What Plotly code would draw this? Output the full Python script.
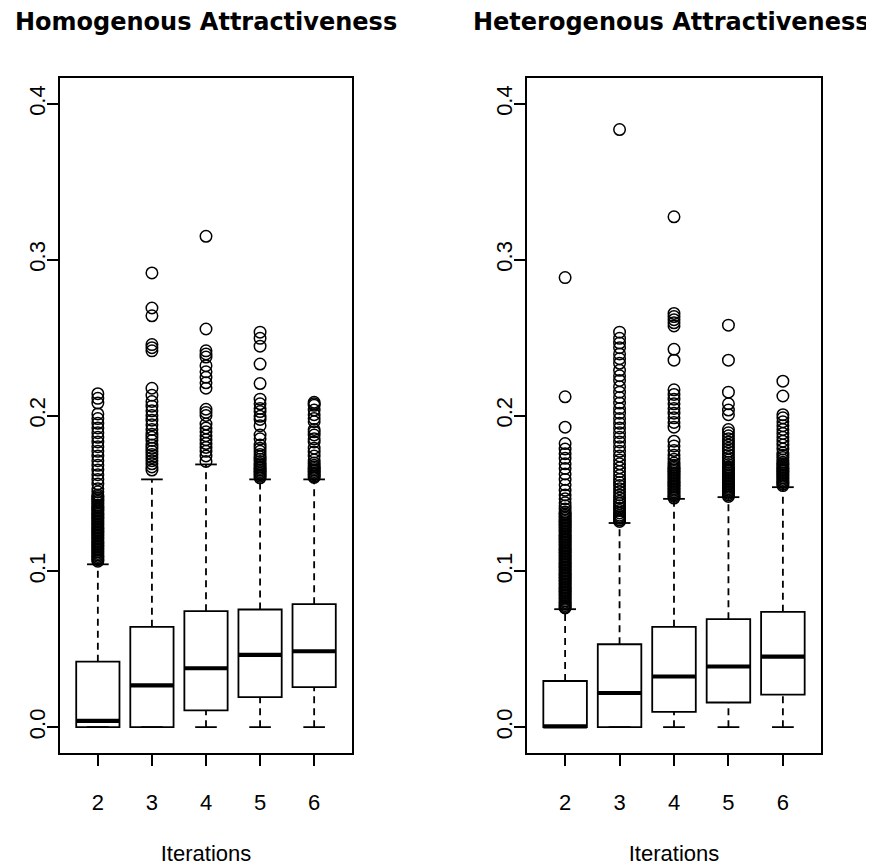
import plotly.graph_objects as go

# ---------------- data ----------------
ITER_LABELS = ["2", "3", "4", "5", "6"]
POSITIONS = [1, 2, 3, 4, 5]

# Homogenous attractiveness: box statistics
HOM_Q1 = [0.0, 0.0, 0.0108, 0.0193, 0.0257]
HOM_MED = [0.004, 0.0268, 0.0378, 0.0464, 0.0487]
HOM_Q3 = [0.042, 0.0644, 0.0744, 0.0755, 0.0789]
HOM_LOW = [0.0, 0.0, 0.0, 0.0, 0.0]
HOM_UP = [0.1045, 0.159, 0.1686, 0.159, 0.159]

HOM_OUT_2 = [0.214, 0.211, 0.208, 0.201, 0.198, 0.195, 0.192, 0.189, 0.186, 0.183, 0.180, 0.177,
             0.174, 0.171, 0.168, 0.165, 0.162, 0.159, 0.156, 0.153, 0.151, 0.149, 0.148, 0.147,
             0.146, 0.145, 0.144, 0.1425, 0.1415, 0.1405, 0.1395, 0.1385, 0.1375, 0.1365, 0.1355,
             0.1345, 0.1335, 0.1325, 0.1315, 0.1305, 0.1295, 0.1285, 0.1275, 0.1265, 0.1255,
             0.1245, 0.1235, 0.1225, 0.1215, 0.1205, 0.1195, 0.1185, 0.1175, 0.1165, 0.1155,
             0.1145, 0.1135, 0.1125, 0.1115, 0.1105, 0.1095, 0.1085, 0.1075, 0.1065]
HOM_OUT_3 = [0.2915, 0.269, 0.264, 0.2455, 0.2435, 0.2415, 0.2175, 0.213, 0.209, 0.206, 0.203,
             0.200, 0.197, 0.194, 0.191, 0.188, 0.186, 0.184, 0.181, 0.179, 0.177, 0.175, 0.173,
             0.171, 0.169, 0.167, 0.165]
HOM_OUT_4 = [0.315, 0.2555, 0.2415, 0.2395, 0.2375, 0.232, 0.228, 0.2245, 0.221, 0.2175, 0.204,
             0.202, 0.200, 0.1945, 0.192, 0.1895, 0.187, 0.1845, 0.182, 0.1795, 0.177, 0.174, 0.1705]
HOM_OUT_5 = [0.2535, 0.2495, 0.2445, 0.233, 0.2205, 0.2105, 0.2075, 0.2045, 0.2025, 0.1995,
             0.1975, 0.1935, 0.1875, 0.185, 0.181, 0.179, 0.177, 0.175, 0.1735, 0.172, 0.1705,
             0.169, 0.168, 0.167, 0.166, 0.165, 0.164, 0.163, 0.162, 0.161, 0.160]
HOM_OUT_6 = [0.2085, 0.2075, 0.2065, 0.2035, 0.2005, 0.198, 0.196, 0.191, 0.1895, 0.1875, 0.185,
             0.183, 0.179, 0.1765, 0.174, 0.1715, 0.1695, 0.168, 0.167, 0.166, 0.165, 0.164,
             0.163, 0.162, 0.161, 0.1602]

# Heterogenous attractiveness: box statistics
HET_Q1 = [0.0, 0.0, 0.0098, 0.0158, 0.0209]
HET_MED = [0.0005, 0.0219, 0.0325, 0.0389, 0.0453]
HET_Q3 = [0.0296, 0.0532, 0.0644, 0.0693, 0.074]
HET_LOW = [0.0, 0.0, 0.0, 0.0, 0.0]
HET_UP = [0.0757, 0.131, 0.1465, 0.1476, 0.154]

HET_OUT_2 = [0.2885, 0.212, 0.1925, 0.182, 0.1785, 0.1755, 0.1725, 0.169, 0.166, 0.1625, 0.159,
             0.1555, 0.152, 0.149, 0.1465, 0.144, 0.142, 0.140, 0.138, 0.137, 0.136, 0.135,
             0.134, 0.133, 0.132, 0.131, 0.130, 0.129, 0.128, 0.127, 0.126, 0.125, 0.124,
             0.123, 0.122, 0.121, 0.120, 0.119, 0.118, 0.117, 0.116, 0.115, 0.114, 0.113,
             0.112, 0.111, 0.110, 0.109, 0.108, 0.107, 0.106, 0.105, 0.104, 0.103, 0.102,
             0.101, 0.100, 0.099, 0.098, 0.097, 0.096, 0.095, 0.094, 0.093, 0.092, 0.091,
             0.090, 0.089, 0.088, 0.087, 0.086, 0.085, 0.084, 0.083, 0.082, 0.081, 0.080,
             0.079, 0.078, 0.077, 0.0765]
HET_OUT_3 = [0.3835, 0.2535, 0.2495, 0.2465, 0.2435, 0.2395, 0.2365, 0.2335, 0.229, 0.2255,
             0.2225, 0.2185, 0.215, 0.2115, 0.208, 0.2045, 0.2015, 0.198, 0.195, 0.192, 0.189,
             0.186, 0.183, 0.180, 0.177, 0.174, 0.1715, 0.169, 0.1665, 0.164, 0.1615, 0.159,
             0.157, 0.155, 0.153, 0.151, 0.149, 0.147, 0.145, 0.1435, 0.142, 0.1405, 0.139,
             0.1375, 0.136, 0.135, 0.134, 0.133, 0.132]
HET_OUT_4 = [0.3275, 0.2655, 0.2635, 0.2615, 0.2595, 0.2575, 0.2425, 0.2355, 0.2165, 0.2135,
             0.2105, 0.2075, 0.2045, 0.2015, 0.1985, 0.1955, 0.1925, 0.1835, 0.1805, 0.1775,
             0.1745, 0.172, 0.1695, 0.168, 0.167, 0.166, 0.165, 0.164, 0.163, 0.162, 0.161,
             0.160, 0.159, 0.158, 0.157, 0.156, 0.155, 0.154, 0.153, 0.152, 0.151, 0.150,
             0.149, 0.148, 0.147]
HET_OUT_5 = [0.258, 0.2355, 0.215, 0.2075, 0.2035, 0.2005, 0.191, 0.189, 0.187, 0.185, 0.183,
             0.181, 0.179, 0.177, 0.175, 0.173, 0.1715, 0.170, 0.1685, 0.167, 0.166, 0.165,
             0.164, 0.163, 0.162, 0.161, 0.160, 0.159, 0.158, 0.157, 0.156, 0.155, 0.154,
             0.153, 0.152, 0.151, 0.150, 0.149, 0.148]
HET_OUT_6 = [0.222, 0.2125, 0.2005, 0.1985, 0.196, 0.1935, 0.191, 0.1885, 0.186, 0.1835, 0.181,
             0.1785, 0.176, 0.1745, 0.173, 0.1715, 0.170, 0.169, 0.168, 0.167, 0.166, 0.165,
             0.164, 0.163, 0.162, 0.161, 0.160, 0.159, 0.158, 0.157, 0.156, 0.155]

Y_TICKS = [0.0, 0.1, 0.2, 0.3, 0.4]
Y_TICK_LABELS = ["0.0", "0.1", "0.2", "0.3", "0.4"]

TITLES = ["Homogenous Attractiveness", "Heterogenous Attractiveness"]
X_TITLE = "Iterations"

# ---------------- figure ----------------
BOX_W = 0.8
CAP_W = 0.4
LINE_W = 1.8

fig = go.Figure()


def add_panel(xa, ya, q1, med, q3, low, up, outs):
    # whiskers (dashed)
    wx, wy = [], []
    for p, a, b, lo, hi in zip(POSITIONS, q1, q3, low, up):
        wx += [p, p, None]
        wy += [b, hi, None]
        if a > lo:
            wx += [p, p, None]
            wy += [lo, a, None]
    fig.add_trace(go.Scatter(x=wx, y=wy, mode="lines", xaxis=xa, yaxis=ya,
                             line=dict(color="black", width=LINE_W, dash="7px,5px"),
                             showlegend=False, hoverinfo="skip"))
    # staples
    sx, sy = [], []
    for p, lo, hi in zip(POSITIONS, low, up):
        sx += [p - CAP_W / 2, p + CAP_W / 2, None, p - CAP_W / 2, p + CAP_W / 2, None]
        sy += [hi, hi, None, lo, lo, None]
    fig.add_trace(go.Scatter(x=sx, y=sy, mode="lines", xaxis=xa, yaxis=ya,
                             line=dict(color="black", width=LINE_W),
                             showlegend=False, hoverinfo="skip"))
    # boxes
    fig.add_trace(go.Box(x=POSITIONS, q1=q1, median=med, q3=q3, lowerfence=q1, upperfence=q3,
                         width=BOX_W, whiskerwidth=0, boxpoints=False,
                         line=dict(color="black", width=LINE_W), fillcolor="white",
                         xaxis=xa, yaxis=ya, showlegend=False, hoverinfo="skip"))
    # medians (thick)
    mx, my = [], []
    for p, m in zip(POSITIONS, med):
        mx += [p - BOX_W / 2, p + BOX_W / 2, None]
        my += [m, m, None]
    fig.add_trace(go.Scatter(x=mx, y=my, mode="lines", xaxis=xa, yaxis=ya,
                             line=dict(color="black", width=4.2),
                             showlegend=False, hoverinfo="skip"))
    # outliers
    ox, oy = [], []
    for p, vals in zip(POSITIONS, outs):
        ox += [p] * len(vals)
        oy += vals
    fig.add_trace(go.Scatter(x=ox, y=oy, mode="markers", xaxis=xa, yaxis=ya,
                             marker=dict(symbol="circle-open", size=11.5, color="black",
                                         line=dict(color="black", width=1.5)),
                             showlegend=False, hoverinfo="skip"))


add_panel("x", "y", HOM_Q1, HOM_MED, HOM_Q3, HOM_LOW, HOM_UP,
          [HOM_OUT_2, HOM_OUT_3, HOM_OUT_4, HOM_OUT_5, HOM_OUT_6])
add_panel("x2", "y2", HET_Q1, HET_MED, HET_Q3, HET_LOW, HET_UP,
          [HET_OUT_2, HET_OUT_3, HET_OUT_4, HET_OUT_5, HET_OUT_6])

TICK_FONT = dict(family="Liberation Sans, Arial, sans-serif", size=22, color="black")

# the page has an 8px body margin, so the figure starts 8px in from the top-left
FIG_W, FIG_H = 866, 858
ML, MT, MR, MB = 52, 70, 53, 113
PLOT_W = FIG_W - ML - MR
PLOT_H = FIG_H - MT - MB

xcommon = dict(range=[0.3, 5.7], tickmode="array", tickvals=POSITIONS, ticktext=ITER_LABELS,
               showline=True, mirror=True, linecolor="black", linewidth=LINE_W,
               ticks="outside", ticklen=11, tickwidth=LINE_W, tickcolor="black",
               showgrid=False, zeroline=False, tickfont=TICK_FONT, ticklabelstandoff=18,
               automargin=False,
               title=dict(text=X_TITLE, font=TICK_FONT, standoff=32))
ycommon = dict(range=[-0.0166, 0.4166], tickmode="array", tickvals=Y_TICKS, ticktext=Y_TICK_LABELS,
               showline=True, mirror=True, linecolor="black", linewidth=LINE_W,
               ticks="outside", ticklen=11, tickwidth=LINE_W, tickcolor="black",
               showgrid=False, zeroline=False, tickfont=TICK_FONT, tickangle=-90,
               ticklabelstandoff=-7, automargin=False)

D1 = 292 / PLOT_W
D2 = (527 - 60) / PLOT_W

fig.update_layout(
    width=FIG_W, height=FIG_H,
    margin=dict(l=ML, r=MR, t=MT, b=MB, autoexpand=False),
    paper_bgcolor="white", plot_bgcolor="white",
    xaxis=dict(domain=[0, D1], anchor="y", **xcommon),
    yaxis=dict(domain=[0, 1], anchor="x", **ycommon),
    xaxis2=dict(domain=[D2, 1], anchor="y2", **xcommon),
    yaxis2=dict(domain=[0, 1], anchor="x2", **ycommon),
    showlegend=False,
)

TITLE_FONT = dict(family="DejaVu Sans, sans-serif", size=24, color="black")
TITLE_Y = 1 + (MT - 14) / PLOT_H
fig.add_annotation(text="<b>" + TITLES[0] + "</b>", x=D1 / 2, y=TITLE_Y, xref="paper", yref="paper",
                   xanchor="center", yanchor="middle", showarrow=False, font=TITLE_FONT)
fig.add_annotation(text="<b>" + TITLES[1] + "</b>", x=(663 - ML) / PLOT_W, y=TITLE_Y,
                   xref="paper", yref="paper", xanchor="center", yanchor="middle",
                   showarrow=False, font=TITLE_FONT)

fig.write_html("out.html")
